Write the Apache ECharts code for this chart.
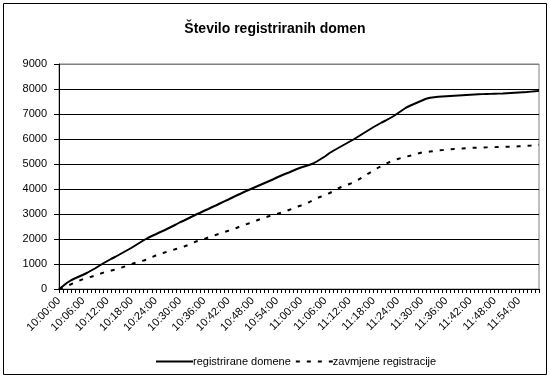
<!DOCTYPE html>
<html>
<head>
<meta charset="utf-8">
<script src="https://cdn.jsdelivr.net/npm/echarts@6/dist/echarts.min.js"></script>
<style>
html,body{margin:0;padding:0;background:#fff;}
#c{width:550px;height:379px;}
</style>
</head>
<body>
<div id="c"></div>
<script>
var titleText = 'Število registriranih domen';
var seriesNames = ['registrirane domene', 'zavmjene registracije'];
var yTicks = [0, 1000, 2000, 3000, 4000, 5000, 6000, 7000, 8000, 9000];

// categories: one per minute, 10:00:00 .. 11:59:00
var startHour = 10, minuteCount = 120;
var categories = [];
for (var m = 0; m < minuteCount; m++) {
  var h = startHour + Math.floor(m / 60), mm = m % 60;
  categories.push(h + ':' + (mm < 10 ? '0' : '') + mm + ':00');
}

var registrirane = [
  0,120,250,350,430,500,570,650,740,830,
  930,1030,1120,1210,1290,1380,1470,1560,1650,1750,
  1850,1950,2040,2120,2190,2270,2340,2420,2500,2580,
  2670,2740,2820,2900,2980,3050,3130,3200,3280,3350,
  3430,3505,3580,3660,3740,3810,3890,3960,4030,4100,
  4170,4240,4310,4380,4460,4530,4600,4660,4730,4800,
  4860,4910,4960,5020,5110,5210,5310,5430,5530,5620,
  5710,5800,5890,5980,6080,6180,6280,6380,6480,6570,
  6660,6740,6830,6920,7030,7140,7250,7330,7400,7470,
  7540,7610,7650,7670,7690,7700,7710,7720,7730,7740,
  7750,7760,7770,7780,7790,7795,7800,7805,7810,7815,
  7820,7830,7840,7850,7860,7870,7880,7895,7910,7925
];

var zavrnjene = [
  0,60,130,190,260,330,400,450,490,540,
  600,655,700,740,780,830,885,940,1000,1055,
  1100,1140,1190,1270,1340,1400,1450,1500,1550,1600,
  1650,1700,1760,1830,1900,1950,2000,2060,2120,2170,
  2220,2280,2330,2370,2440,2510,2570,2620,2670,2740,
  2800,2860,2910,2960,3000,3050,3100,3160,3220,3290,
  3340,3400,3470,3560,3640,3700,3770,3830,3910,4010,
  4080,4140,4200,4260,4350,4450,4550,4645,4740,4840,
  4930,5010,5080,5140,5200,5250,5290,5330,5380,5420,
  5460,5480,5500,5520,5540,5555,5570,5585,5600,5610,
  5620,5630,5640,5650,5655,5660,5665,5670,5675,5680,
  5685,5690,5695,5700,5710,5720,5730,5740,5755,5770
];

var FONT = 'Liberation Sans, Arial, sans-serif';
var chart = echarts.init(document.getElementById('c'), null, {renderer: 'canvas'});
var splitColors = yTicks.map(function (v, i) { return i === yTicks.length - 1 ? '#808080' : '#000000'; });

chart.setOption({
  animation: false,
  backgroundColor: '#ffffff',
  title: {
    text: titleText,
    left: 'center',
    top: 17,
    textStyle: {fontFamily: FONT, fontSize: 14, fontWeight: 'bold', color: '#000'}
  },
  graphic: [{
    type: 'rect',
    shape: {x: 3.5, y: 3.5, width: 543, height: 371},
    style: {fill: 'none', stroke: '#000', lineWidth: 1},
    silent: true,
    z: -1
  }],
  legend: {
    left: 150,
    top: 351,
    itemWidth: 37,
    itemHeight: 10,
    itemGap: 4,
    itemStyle: {opacity: 0},
    textStyle: {fontFamily: FONT, fontSize: 11, color: '#000', padding: [0, 0, 0, -5]},
    data: seriesNames
  },
  grid: {
    left: 59, right: 11, top: 64, bottom: 90,
    show: true, borderColor: '#808080', borderWidth: 1, backgroundColor: 'transparent'
  },
  xAxis: {
    type: 'category',
    data: categories,
    boundaryGap: false,
    axisLine: {lineStyle: {color: '#000', width: 1}},
    axisTick: {show: true, interval: 0, length: 4, lineStyle: {color: '#000'}},
    axisLabel: {interval: 5, rotate: 45, fontFamily: FONT, fontSize: 11, color: '#000', margin: 10},
    splitLine: {show: false}
  },
  yAxis: {
    type: 'value',
    min: 0, max: 9000, interval: 1000,
    axisLine: {show: true, lineStyle: {color: '#000', width: 1}},
    axisTick: {show: true, length: 5, lineStyle: {color: '#000'}},
    axisLabel: {fontFamily: FONT, fontSize: 11, color: '#000', margin: 12,
      formatter: function (v) { return String(v); }},
    splitLine: {show: true, lineStyle: {color: splitColors, width: 1}}
  },
  series: [{
    name: seriesNames[0],
    type: 'line',
    data: registrirane,
    symbol: 'none',
    lineStyle: {color: '#000', width: 2, type: 'solid'},
    itemStyle: {color: '#000'}
  }, {
    name: seriesNames[1],
    type: 'line',
    data: zavrnjene,
    symbol: 'none',
    lineStyle: {color: '#000', width: 2, type: [4, 7]},
    itemStyle: {color: '#000'}
  }]
});
</script>
</body>
</html>
